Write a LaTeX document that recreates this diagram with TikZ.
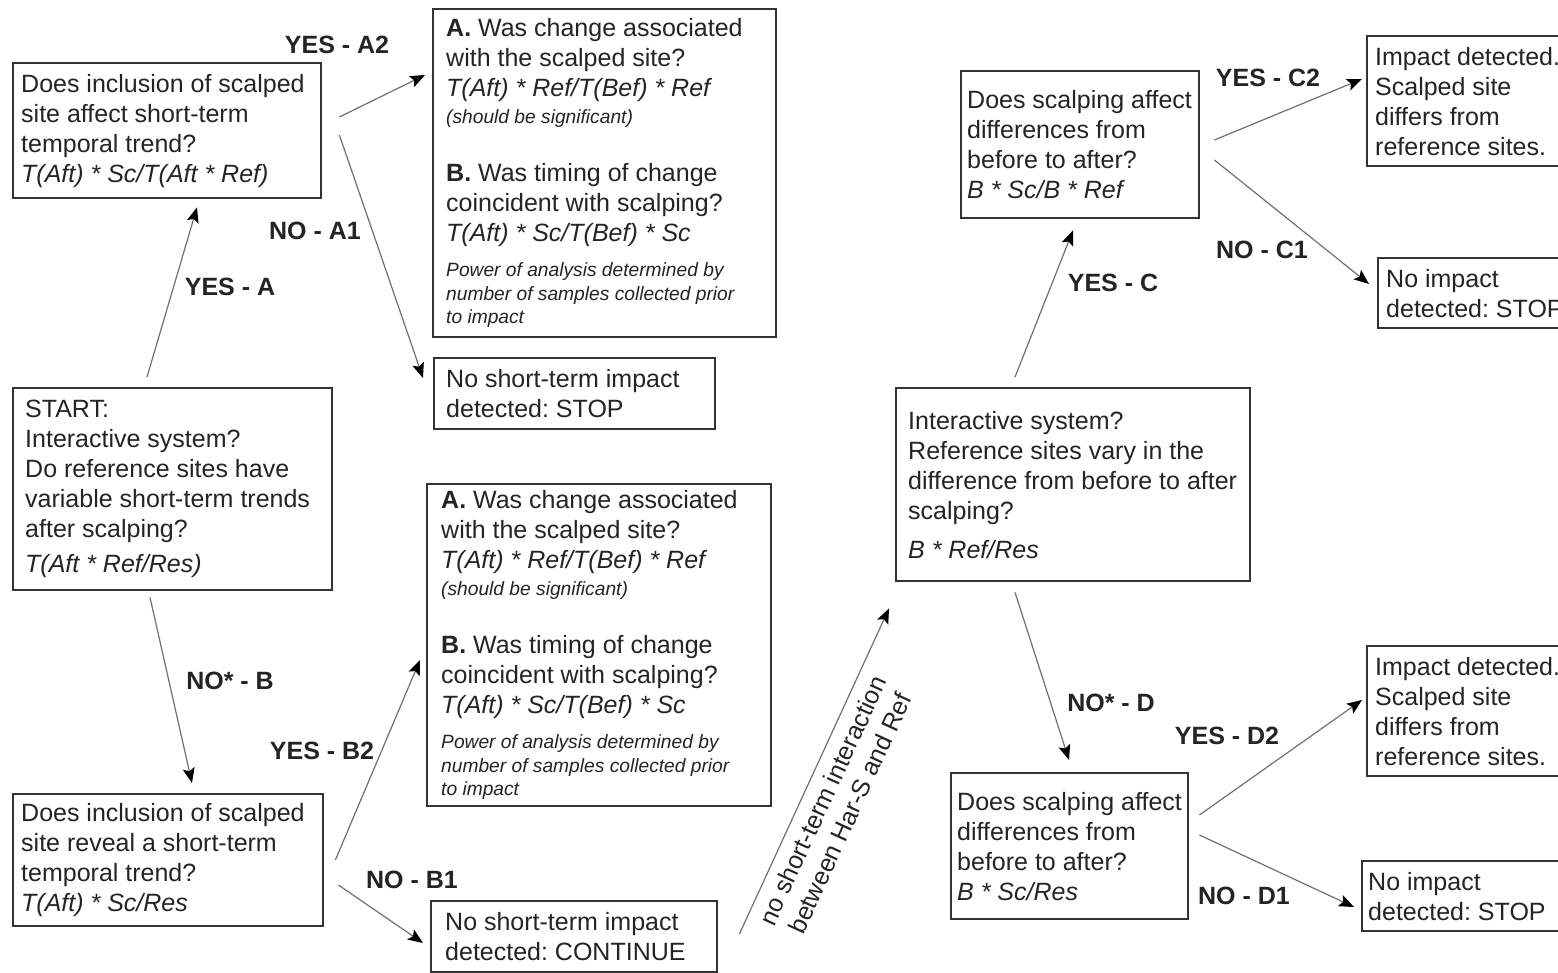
\documentclass[tikz,border=0pt]{standalone}
\usepackage{fontspec}
\setmainfont{Liberation Sans}
\usetikzlibrary{arrows.meta,calc}
\definecolor{ink}{HTML}{242424}
\definecolor{frame}{HTML}{333333}
\definecolor{wire}{HTML}{707070}
\newcommand{\mainsz}{\fontsize{12.5}{15}\selectfont}
\newcommand{\notesz}{\fontsize{9.6}{12}\selectfont}
% natural interword spacing inside aligned node text
\newcommand{\plainspaces}{\spaceskip=0pt\xspaceskip=0pt\frenchspacing}

\begin{document}
\begin{tikzpicture}[x=0.5pt,y=-0.5pt,
  box/.style={draw=frame, line width=1.2pt, anchor=north west, align=left,
    text=ink, font=\mainsz, inner ysep=2pt, execute at begin node=\plainspaces},
  flow/.style={draw=wire, line width=0.6pt,
    -{Stealth[length=7.5pt,width=6pt,inset=1.5pt,color=black]}},
  tag/.style={font=\mainsz\bfseries, text=ink, inner sep=1pt},
]
\useasboundingbox (0,0) rectangle (1558,973);
\clip (0,0) rectangle (1558,973);
\fill[white] (0,0) rectangle (1558,973);

% ---- left column: short-term trend questions
\node[box, minimum width=154pt, minimum height=67.5pt, text width=146pt, inner xsep=4pt]
  (qa) at (12,62) {Does inclusion of scalped\\ site affect short-term\\ temporal trend?\\
  \textit{T(Aft) * Sc/T(Aft * Ref)}};

\node[box, minimum width=159.5pt, minimum height=101pt, text width=147.5pt, inner xsep=6pt]
  (start) at (12,387) {START:\\ Interactive system?\\ Do reference sites have\\
  \mbox{variable short-term trends}\\ after scalping?\\[2.5pt] \textit{T(Aft * Ref/Res)}};

\node[box, minimum width=155pt, minimum height=66pt, text width=147pt, inner xsep=4pt]
  (qb) at (12,793) {Does inclusion of scalped\\ site reveal a short-term\\ temporal trend?\\
  \textit{T(Aft) * Sc/Res}};

% ---- middle column: follow-up tests
\node[box, minimum width=171.5pt, minimum height=164pt, text width=158.5pt, inner xsep=6.5pt]
  (abtop) at (432,8) {\textbf{A.} Was change associated\\ with the scalped site?\\
  \textit{T(Aft) * Ref/T(Bef) * Ref}\\[-1.5pt]
  {\notesz\itshape (should be significant)}\\[14pt]
  \textbf{B.} Was timing of change\\ coincident with scalping?\\
  \textit{T(Aft) * Sc/T(Bef) * Sc}\\[2.5pt]
  {\notesz\itshape Power of analysis determined by}\\[-3pt]
  {\notesz\itshape number of samples collected prior}\\[-3.5pt]
  {\notesz\itshape to impact}};

\node[box, minimum width=140.5pt, minimum height=35.5pt, text width=128.5pt, inner xsep=6pt]
  (stopA) at (433,357) {No short-term impact\\ detected: STOP};

\node[box, minimum width=172pt, minimum height=161pt, text width=158pt, inner xsep=7pt]
  (abbot) at (426,483) {\textbf{A.} Was change associated\\ with the scalped site?\\
  \textit{T(Aft) * Ref/T(Bef) * Ref}\\[-1.5pt]
  {\notesz\itshape (should be significant)}\\[14pt]
  \textbf{B.} Was timing of change\\ coincident with scalping?\\
  \textit{T(Aft) * Sc/T(Bef) * Sc}\\[2.5pt]
  {\notesz\itshape Power of analysis determined by}\\[-3pt]
  {\notesz\itshape number of samples collected prior}\\[-3.5pt]
  {\notesz\itshape to impact}};

\node[box, minimum width=143pt, minimum height=35.5pt, text width=129pt, inner xsep=7pt]
  (cont) at (430,900) {No short-term impact\\ detected: CONTINUE};

% ---- right part: before/after differences
\node[box, minimum width=177pt, minimum height=96.5pt, text width=165pt, inner xsep=6pt]
  (inter) at (895,387) {Interactive system?\\ Reference sites vary in the\\
  \mbox{difference from before to after}\\ scalping?\\[4.5pt] \textit{B * Ref/Res}};

\node[box, minimum width=119pt, minimum height=73.5pt, text width=113pt, inner xsep=3pt]
  (cbox) at (960,70) {\mbox{Does scalping affect}\\ differences from\\ before to after?\\
  \textit{B * Sc/B * Ref}};

\node[box, minimum width=118.5pt, minimum height=73pt, text width=112.5pt, inner xsep=3pt]
  (dbox) at (950,772) {\mbox{Does scalping affect}\\ differences from\\ before to after?\\
  \textit{B * Sc/Res}};

\node[box, minimum width=200pt, minimum height=65pt, text width=192pt, inner xsep=4pt]
  (c2) at (1366,35) {Impact detected.\\ Scalped site\\ differs from\\ reference sites.};
\node[box, minimum width=100pt, minimum height=35pt, text width=92pt, inner xsep=4pt]
  (c1) at (1377,257) {No impact\\ detected: STOP};
\node[box, minimum width=200pt, minimum height=65pt, text width=192pt, inner xsep=4pt]
  (d2) at (1366,645) {Impact detected.\\ Scalped site\\ differs from\\ reference sites.};
\node[box, minimum width=200pt, minimum height=35pt, text width=194pt, inner xsep=3pt]
  (d1) at (1361,860) {No impact\\ detected: STOP};

% ---- connectors
\draw[flow] ($(start.north west)+(135,-10)$) -- ($(qa.south west)+(185,8)$);
\draw[flow] ($(qa.north east)+(17,55)$) -- ($(abtop.north west)+(-7,67)$);
\draw[flow] ($(qa.north east)+(17,73)$) -- ($(stopA.north west)+(-10,21)$);
\draw[flow] ($(start.south west)+(138,6)$) -- ($(qb.north west)+(180,-10)$);
\draw[flow] ($(qb.north east)+(11,67)$) -- ($(abbot.north west)+(-6,177)$);
\draw[flow] ($(qb.north east)+(14,92)$) -- ($(cont.north west)+(-7,43)$);
\draw[flow] ($(cont.north east)+(21,34)$) --
  node[sloped, pos=0.435, below=3pt, align=center, font=\mainsz, text=ink, inner sep=2pt,
    execute at begin node=\plainspaces]
  (note) {no short-term interaction\\ between Har-S and Ref}
  ($(inter.south west)+(-6,26)$);
\draw[flow] ($(inter.north west)+(120,-10)$) -- ($(cbox.south west)+(113,11)$);
\draw[flow] ($(cbox.north east)+(14,70)$) -- ($(c2.north west)+(-4,44)$);
\draw[flow] ($(cbox.north east)+(14,90)$) -- ($(c1.north west)+(-8,27)$);
\draw[flow] ($(inter.south west)+(120,10)$) -- ($(dbox.north west)+(119,-12)$);
\draw[flow] ($(dbox.north east)+(10,43)$) -- ($(d2.north west)+(-4,55)$);
\draw[flow] ($(dbox.north east)+(10,63)$) -- ($(d1.north west)+(-7,47)$);

% ---- branch labels
\node[tag] (lA2) at (337,45) {YES - A2};
\node[tag] (lA1) at (315,231) {NO - A1};
\node[tag] (lA) at (230,287) {YES - A};
\node[tag] (lB) at (230,681) {NO* - B};
\node[tag] (lB2) at (322,751) {YES - B2};
\node[tag] (lB1) at (412,880) {NO - B1};
\node[tag] (lC) at (1113,283) {YES - C};
\node[tag] (lC2) at (1268,78) {YES - C2};
\node[tag] (lC1) at (1262,250) {NO - C1};
\node[tag] (lD) at (1111,703) {NO* - D};
\node[tag] (lD2) at (1227,736) {YES - D2};
\node[tag] (lD1) at (1244,896) {NO - D1};
\end{tikzpicture}
\end{document}
